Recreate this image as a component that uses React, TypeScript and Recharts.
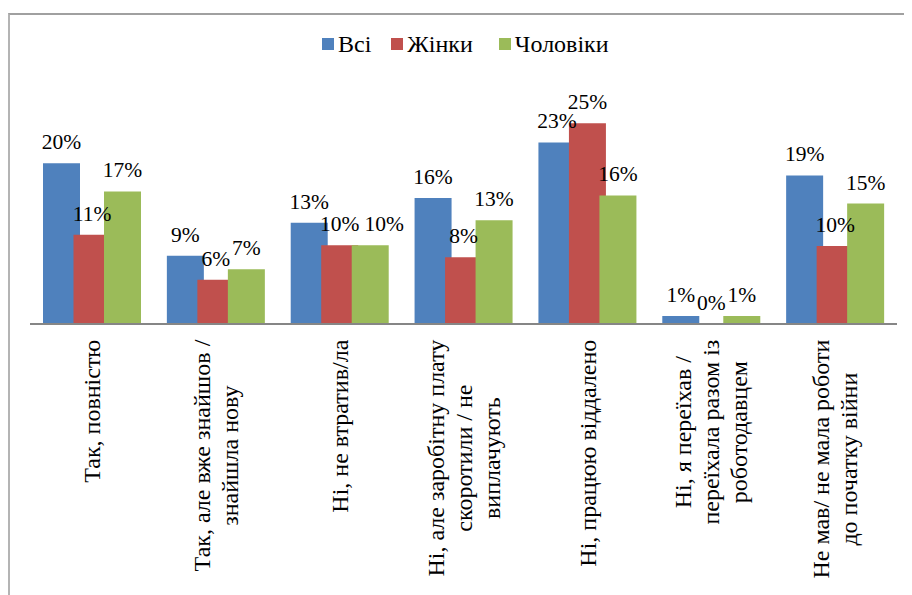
import React from "react";
import { BarChart, Bar, XAxis, YAxis, Legend, LabelList } from "recharts";

const categories = [
  "Так, повністю",
  "Так, але вже знайшов / знайшла нову",
  "Ні, не втратив/ла",
  "Ні, але заробітну плату скоротили / не виплачують",
  "Ні, працюю віддалено",
  "Ні, я переїхав / переїхала разом із роботодавцем",
  "Не мав/ не мала роботи до початку війни",
];

const tickLines: string[][] = [
  ["Так, повністю"],
  ["Так, але вже знайшов /", "знайшла нову"],
  ["Ні, не втратив/ла"],
  ["Ні, але заробітну плату", "скоротили / не", "виплачують"],
  ["Ні, працюю віддалено"],
  ["Ні, я переїхав /", "переїхала разом із", "роботодавцем"],
  ["Не мав/ не мала роботи", "до початку війни"],
];

const allValues = [20, 8.5, 12.6, 15.7, 22.6, 1.0, 18.5];
const womenValues = [11.1, 5.5, 9.8, 8.3, 25, 0, 9.7];
const menValues = [16.5, 6.8, 9.8, 12.9, 16.0, 1.0, 15.0];

const seriesNames = ["Всі", "Жінки", "Чоловіки"];
const seriesColors = ["#4F81BD", "#C0504D", "#9BBB59"];
const seriesValues = [allValues, womenValues, menValues];
const keys = ["all", "women", "men"];

const data = categories.map((c, i) => ({
  name: c,
  all: allValues[i],
  women: womenValues[i],
  men: menValues[i],
}));

const FONT = "Liberation Serif, Times New Roman, serif";
const TICK_FS = 24;
const LABEL_FS = 21.5;
const LEGEND_FS = 24;
const LINE_H = 28;
const CAP = 0.69 * TICK_FS;

const CHART_W = 902;
const CHART_H = 580;
const MARGIN = { top: 68, right: 15, bottom: 0, left: 20 };
const X_AXIS_H = 271;
const Y_MAX = 30;
const BAR_SIZE = 37;
const BAR_GAP = -6.5;
const PLOT_H = CHART_H - MARGIN.top - MARGIN.bottom - X_AXIS_H;
const PX_PER = PLOT_H / Y_MAX;

let measureCtx: CanvasRenderingContext2D | null = null;
function textWidth(s: string, size: number): number {
  if (!measureCtx) {
    const c = document.createElement("canvas");
    measureCtx = c.getContext("2d");
  }
  if (!measureCtx) return s.length * size * 0.5;
  measureCtx.font = `${size}px ${FONT}`;
  return measureCtx.measureText(s).width;
}

const fmt = (v: any) => `${Math.round(Number(v))}%`;
const zeroMin = (v: any) => (Number(v) === 0 ? 0.01 : 0);

const makeLabel = (s: number) => (props: any) => {
  const { x, y, width, height, index } = props;
  const v = seriesValues[s][index];
  const text = fmt(v);
  const cx = x + width / 2;
  const base = y + height;
  const top = base - v * PX_PER;
  let shift = 0;
  if (s > 0) {
    const pv = seriesValues[s - 1][index];
    const ptop = base - pv * PX_PER;
    const pcx = cx - (BAR_SIZE + BAR_GAP);
    const pw = textWidth(fmt(pv), LABEL_FS);
    const w = textWidth(text, LABEL_FS);
    if (Math.abs(top - ptop) < LABEL_FS * 0.8) {
      const need = pcx + pw / 2 + 5 - (cx - w / 2);
      if (need > 8) shift = need;
    }
  }
  return (
    <text
      x={cx + shift}
      y={top - 14}
      textAnchor="middle"
      fill="#000"
      style={{ fontFamily: FONT, fontSize: LABEL_FS }}
    >
      {text}
    </text>
  );
};

const CategoryTick = (props: any) => {
  const { x, y, payload } = props;
  const idx = categories.indexOf(payload.value);
  const lines = idx >= 0 ? tickLines[idx] : [String(payload.value)];
  const maxW = Math.max(...lines.map((l) => textWidth(l, TICK_FS)));
  const c = y + 15.7 + maxW / 2;
  const n = lines.length;
  return (
    <g>
      {lines.map((ln, i) => {
        const bx = x + CAP / 2 + (i - (n - 1) / 2) * LINE_H;
        return (
          <text
            key={i}
            transform={`translate(${bx}, ${c}) rotate(-90)`}
            textAnchor="middle"
            style={{ fontFamily: FONT, fontSize: TICK_FS }}
            fill="#000"
          >
            {ln}
          </text>
        );
      })}
    </g>
  );
};

const LegendContent = () => (
  <div style={{ display: "flex", alignItems: "center", height: 24, fontFamily: FONT, fontSize: LEGEND_FS, lineHeight: "24px", color: "#000" }}>
    {seriesNames.map((n, i) => (
      <div key={n} style={{ display: "flex", alignItems: "center", marginRight: i === 0 ? 20 : 26 }}>
        <div style={{ width: 12, height: 12, background: seriesColors[i] }} />
        <span style={{ marginLeft: 4, whiteSpace: "nowrap" }}>{n}</span>
      </div>
    ))}
  </div>
);

export default function App() {
  return (
    <div
      style={{
        marginTop: 5,
        borderTop: "2px solid #a0a0a0",
        borderLeft: "2px solid #b4b4b4",
        width: CHART_W,
        height: CHART_H,
        background: "#fff",
        fontFamily: FONT,
      }}
    >
      <BarChart
        width={CHART_W}
        height={CHART_H}
        data={data}
        margin={MARGIN}
        barSize={BAR_SIZE}
        barGap={BAR_GAP}
        style={{ fontFamily: FONT }}
      >
        <YAxis hide domain={[0, Y_MAX]} />
        {keys.map((k, i) => (
          <Bar key={k} dataKey={k} name={seriesNames[i]} fill={seriesColors[i]} minPointSize={zeroMin} isAnimationActive={false}>
            <LabelList dataKey={k} content={makeLabel(i)} />
          </Bar>
        ))}
        <XAxis
          dataKey="name"
          height={X_AXIS_H}
          interval={0}
          tickLine={false}
          tickSize={0}
          tickMargin={0}
          axisLine={{ stroke: "#868686", strokeWidth: 2 }}
          tick={<CategoryTick />}
        />
        <Legend
          layout="horizontal"
          verticalAlign="middle"
          align="center"
          wrapperStyle={{ top: 17, left: 312, width: 500 }}
          content={<LegendContent />}
        />
      </BarChart>
    </div>
  );
}
